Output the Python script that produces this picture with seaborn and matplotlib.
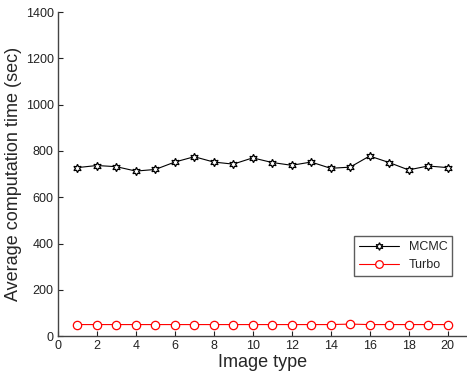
import numpy as np
import pandas as pd
import matplotlib
matplotlib.use('Agg')
import matplotlib.pyplot as plt
import seaborn as sns

# -------------------- data --------------------
image_type = list(range(1, 21))
mcmc_time = [728, 737, 732, 713, 720, 752, 775, 752, 743, 770,
             750, 738, 752, 725, 730, 778, 750, 718, 735, 728]
turbo_time = [50, 50, 50, 50, 50, 50, 50, 50, 50, 50,
              50, 50, 50, 50, 52, 50, 50, 50, 50, 50]
x_ticks = list(range(0, 21, 2))
y_ticks = list(range(0, 1401, 200))

df = pd.DataFrame({
    'Image type': image_type * 2,
    'time': mcmc_time + turbo_time,
    'method': ['MCMC'] * 20 + ['Turbo'] * 20,
})

# -------------------- plot --------------------
sns.set_style('white')
plt.rcParams['font.family'] = ['Liberation Sans', 'DejaVu Sans']

fig = plt.figure(figsize=(4.67, 3.76), dpi=100)
ax = fig.add_axes([0.124, 0.106, 0.876, 0.862])

hexagram = (6, 1, 0)
sns.lineplot(data=df, x='Image type', y='time', hue='method', style='method',
             palette={'MCMC': 'black', 'Turbo': 'red'},
             markers={'MCMC': hexagram, 'Turbo': 'o'},
             dashes=False, ax=ax, linewidth=0.8, markersize=6,
             markerfacecolor='white', markeredgewidth=0.9)
for line, c in zip(ax.lines, ['black', 'red']):
    line.set_markeredgecolor(c)

ax.set_xlim(0, 21)
ax.set_ylim(0, 1400)
ax.set_xticks(x_ticks)
ax.set_yticks(y_ticks)
ax.tick_params(direction='in', length=3.5, width=0.8, labelsize=9,
               colors='#222222', pad=3, bottom=True, left=True)
for s in ['top', 'right']:
    ax.spines[s].set_visible(False)
for s in ['left', 'bottom']:
    ax.spines[s].set_color('#444444')
    ax.spines[s].set_linewidth(1.0)

ax.set_xlabel('Image type', fontsize=13, labelpad=1)
ax.set_ylabel('Average computation time (sec)', fontsize=13, labelpad=3)

handles, labels = ax.get_legend_handles_labels()
for h, c in zip(handles, ['black', 'red']):
    h.set_markerfacecolor('white')
    h.set_markeredgecolor(c)
    h.set_markersize(5.5)
leg = ax.legend(handles, labels, loc='upper right',
                bbox_to_anchor=(0.982, 0.388), bbox_transform=fig.transFigure,
                frameon=True, fancybox=False, fontsize=9,
                handlelength=3.2, borderpad=0.4, labelspacing=0.45)
leg.get_frame().set_edgecolor('#333333')
leg.get_frame().set_linewidth(1.0)

fig.savefig('out.png', dpi=100)
